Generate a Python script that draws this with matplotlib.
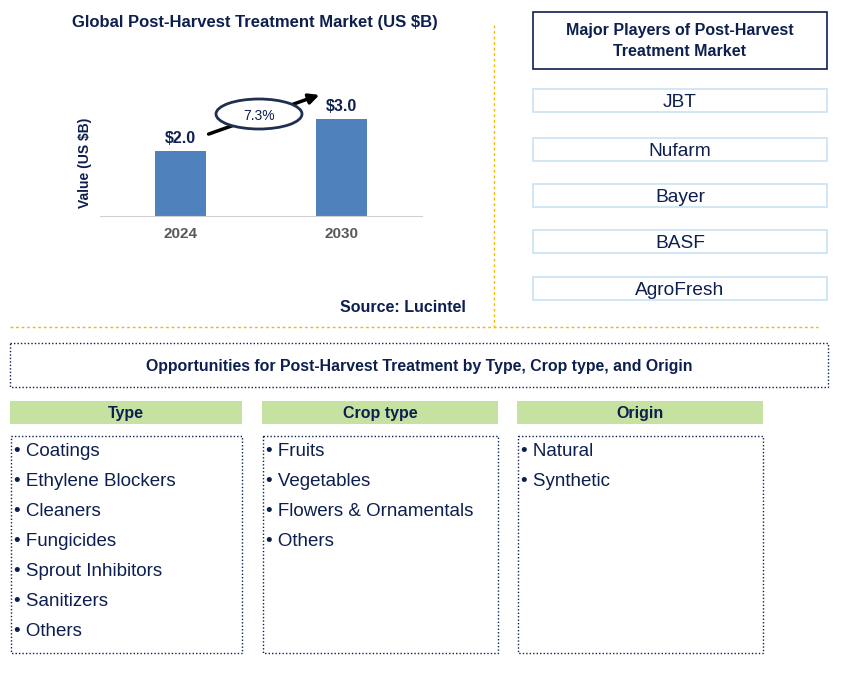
import matplotlib.pyplot as plt
from matplotlib.patches import Rectangle, Ellipse

plt.rcParams['font.family'] = ['Liberation Sans', 'DejaVu Sans']

NAVY = '#0d1f4f'
BAR = '#4f81bd'
ORANGE = '#f5b800'
GREEN = '#c6e2a0'
LIGHTBLUE = '#c9e1f2'

# data
years = ['2024', '2030']
values = [2.0, 3.0]
cagr = '7.3%'
players = ['JBT', 'Nufarm', 'Bayer', 'BASF', 'AgroFresh']
seg_titles = ['Type', 'Crop type', 'Origin']
seg_items = [
    ['Coatings', 'Ethylene Blockers', 'Cleaners', 'Fungicides',
     'Sprout Inhibitors', 'Sanitizers', 'Others'],
    ['Fruits', 'Vegetables', 'Flowers & Ornamentals', 'Others'],
    ['Natural', 'Synthetic'],
]

W, H = 841, 674
fig = plt.figure(figsize=(W / 100, H / 100), dpi=100)

# overlay in pixel coords
ov = fig.add_axes([0, 0, 1, 1])
ov.set_xlim(0, W)
ov.set_ylim(H, 0)
ov.axis('off')

# bar chart
ax = fig.add_axes([100 / W, (H - 216) / H, 322 / W, 156 / H])
ax.bar(range(len(years)), values, width=0.32, color=BAR, zorder=2)
ax.set_xlim(-0.5, 1.5)
ax.set_ylim(0, 156 / 32.3)
ax.set_xticks(range(len(years)))
ax.set_xticklabels(years, fontsize=11, fontweight='bold', color='#595959')
ax.tick_params(axis='x', length=0, pad=8)
ax.set_yticks([])
for s in ['top', 'right', 'left']:
    ax.spines[s].set_visible(False)
ax.spines['bottom'].set_color('#d0d0d0')
ax.patch.set_alpha(0)
for i, v in enumerate(values):
    ax.annotate(f'${v:.1f}', (i, v), xytext=(0, 4), textcoords='offset points',
                ha='center', va='bottom', fontsize=11.5, fontweight='bold', color=NAVY)

ov.text(85, 163, 'Value (US $B)', rotation=90, ha='center', va='center',
        fontsize=10, fontweight='bold', color=NAVY)

# growth arrow and ellipse
ov.annotate('', xy=(322, 94), xytext=(206, 135),
            arrowprops=dict(arrowstyle='-|>,head_length=0.6,head_width=0.3',
                            color='black', lw=2.5))
ov.add_patch(Ellipse((259, 114), 86, 30, facecolor='white', edgecolor='#1f2f4f',
                     lw=2, zorder=3))
ov.text(259, 116, cagr, ha='center', va='center', fontsize=10, color=NAVY,
        zorder=4)

ov.text(255, 23, 'Global Post-Harvest Treatment Market (US $B)', ha='center',
        va='center', fontsize=12, fontweight='bold', color=NAVY)
ov.text(403, 308, 'Source: Lucintel', ha='center', va='center', fontsize=11.5,
        fontweight='bold', color=NAVY)

# divider lines
ov.plot([494, 494], [25, 330], color=ORANGE, lw=1, ls=(0, (2, 2)))
ov.plot([10, 818], [327, 327], color=ORANGE, lw=1, ls=(0, (2, 2)))

# major players
ov.add_patch(Rectangle((533, 12), 294, 57, fill=False, edgecolor=NAVY, lw=1.2))
ov.text(680, 41, 'Major Players of Post-Harvest\nTreatment Market', ha='center',
        va='center', fontsize=11.5, fontweight='bold', color=NAVY, linespacing=1.55)
player_tops = [89, 138, 184, 230, 277]
for name, top in zip(players, player_tops):
    ov.add_patch(Rectangle((533, top), 294, 23, fill=False, edgecolor=LIGHTBLUE, lw=1.2))
    ov.text(680, top + 13.5, name, ha='center', va='center', fontsize=13.8, color=NAVY)

# opportunities
ov.add_patch(Rectangle((10, 343), 818, 44, fill=False, edgecolor=NAVY, lw=1,
                       ls=(0, (1, 1.5))))
ov.text(419, 366, 'Opportunities for Post-Harvest Treatment by Type, Crop type, and Origin',
        ha='center', va='center', fontsize=11.4, fontweight='bold', color=NAVY)

col_x = [10, 262, 517]
col_w = [232, 236, 246]
for x, w, title, items in zip(col_x, col_w, seg_titles, seg_items):
    ov.add_patch(Rectangle((x, 401), w, 23, facecolor=GREEN, edgecolor='none'))
    ov.text(x + w / 2, 413.5, title, ha='center', va='center', fontsize=11.5,
            fontweight='bold', color=NAVY)
    ov.add_patch(Rectangle((x + 1, 436), w - 1, 217, fill=False, edgecolor=NAVY,
                           lw=1, ls=(0, (1, 1.5))))
    for k, item in enumerate(items):
        ov.text(x + 4, 451.5 + 30 * k, '\u2022 ' + item, ha='left', va='center',
                fontsize=13.5, color=NAVY)

fig.savefig('out.png', dpi=100)
